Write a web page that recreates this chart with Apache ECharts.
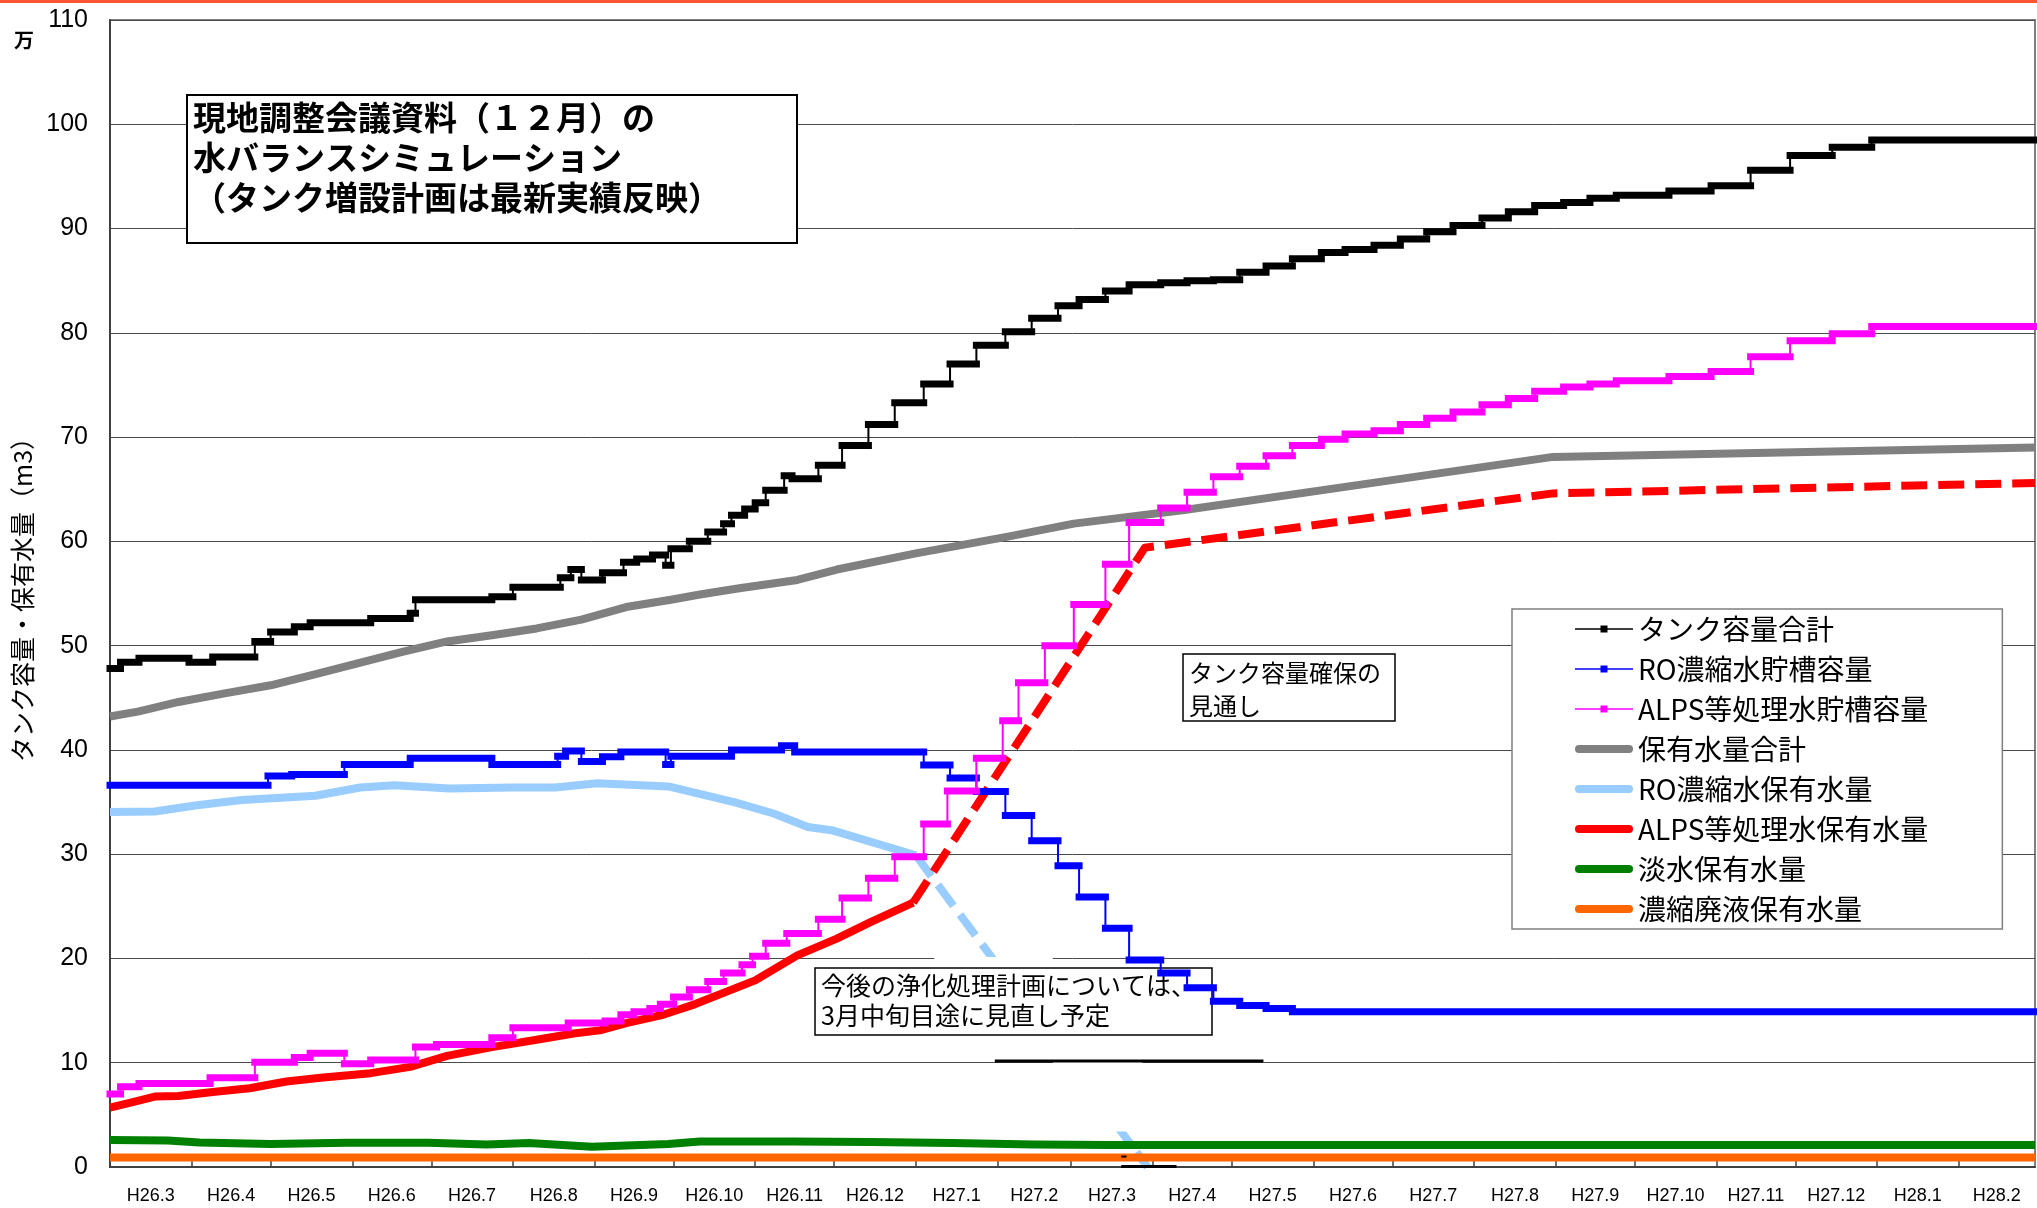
<!DOCTYPE html>
<html>
<head>
<meta charset="utf-8">
<script src="https://cdn.jsdelivr.net/npm/echarts@6/dist/echarts.min.js"></script>
<style>
  html, body { margin: 0; padding: 0; background: #fff; }
  #chart { width: 2037px; height: 1208px; }
</style>
</head>
<body>
<div id="chart"></div>
<script>
// ---- Simulation period -------------------------------------------------
const START = '2014-03-01';
const END = '2016-03-01';

// Month labels along the bottom (Heisei year.month), one per month
const monthLabels = [
  'H26.3', 'H26.4', 'H26.5', 'H26.6', 'H26.7', 'H26.8', 'H26.9', 'H26.10', 'H26.11', 'H26.12',
  'H27.1', 'H27.2', 'H27.3', 'H27.4', 'H27.5', 'H27.6', 'H27.7', 'H27.8', 'H27.9', 'H27.10',
  'H27.11', 'H27.12', 'H28.1', 'H28.2'
];

// ---- タンク容量合計 (万m3): date each capacity level starts, and the level
const tankTotalDates = [
  '2014-03-01', '2014-03-05', '2014-03-12', '2014-03-31', '2014-04-09', '2014-04-25', '2014-05-01',
  '2014-05-10', '2014-05-16', '2014-06-08', '2014-06-23', '2014-06-25', '2014-07-24', '2014-08-01',
  '2014-08-19', '2014-08-23', '2014-08-27', '2014-09-04', '2014-09-12', '2014-09-17', '2014-09-23',
  '2014-09-28', '2014-09-30', '2014-10-07', '2014-10-14', '2014-10-20', '2014-10-23', '2014-10-28',
  '2014-11-01', '2014-11-05', '2014-11-12', '2014-11-15', '2014-11-25', '2014-12-04', '2014-12-14',
  '2014-12-24', '2015-01-04', '2015-01-14', '2015-01-24', '2015-02-04', '2015-02-14', '2015-02-24',
  '2015-03-04', '2015-03-14', '2015-03-23', '2015-04-04', '2015-04-14', '2015-04-24', '2015-05-04',
  '2015-05-14', '2015-05-24', '2015-06-04', '2015-06-13', '2015-06-24', '2015-07-04', '2015-07-14',
  '2015-07-24', '2015-08-04', '2015-08-14', '2015-08-24', '2015-09-04', '2015-09-14', '2015-09-24',
  '2015-10-14', '2015-10-30', '2015-11-14', '2015-11-29', '2015-12-15', '2015-12-30'
];
const tankTotalValues = [
  47.8, 48.4, 48.8, 48.4, 48.9, 50.4, 51.3,
  51.8, 52.2, 52.6, 53.1, 54.4, 54.7, 55.6,
  56.5, 57.3, 56.3, 57.0, 58.0, 58.3, 58.7,
  57.7, 59.3, 60.0, 60.9, 61.7, 62.5, 63.1,
  63.7, 64.9, 66.3, 66.0, 67.3, 69.2, 71.2,
  73.3, 75.1, 77.0, 78.8, 80.1, 81.4, 82.6,
  83.2, 84.0, 84.6, 84.8, 85.0, 85.1, 85.8,
  86.4, 87.1, 87.7, 88.0, 88.4, 89.0, 89.7,
  90.3, 91.0, 91.6, 92.2, 92.5, 92.9, 93.2,
  93.6, 94.1, 95.6, 97.0, 97.8, 98.5
];

// ---- RO濃縮水貯槽容量 (万m3)
const roTankDates = [
  '2014-03-01', '2014-04-30', '2014-05-09', '2014-05-29', '2014-06-23', '2014-07-24', '2014-08-18',
  '2014-08-21', '2014-08-27', '2014-09-04', '2014-09-11', '2014-09-28', '2014-09-30', '2014-10-23',
  '2014-11-11', '2014-11-16', '2015-01-04', '2015-01-14', '2015-01-24', '2015-02-04', '2015-02-14',
  '2015-02-24', '2015-03-04', '2015-03-14', '2015-03-23', '2015-04-04', '2015-04-14', '2015-04-24',
  '2015-05-04', '2015-05-14', '2015-05-24'
];
const roTankValues = [
  36.6, 37.5, 37.65, 38.6, 39.2, 38.6, 39.4,
  39.9, 38.9, 39.35, 39.8, 38.6, 39.4, 40.0,
  40.4, 39.8, 38.55, 37.3, 36.0, 33.7, 31.3,
  28.9, 25.9, 22.9, 19.85, 18.6, 17.2, 15.9,
  15.5, 15.2, 14.9
];

// ---- ALPS等処理水貯槽容量 (万m3)
const alpsTankDates = [
  '2014-03-01', '2014-03-05', '2014-03-12', '2014-04-08', '2014-04-25', '2014-05-10', '2014-05-16',
  '2014-05-29', '2014-06-08', '2014-06-25', '2014-07-03', '2014-07-24', '2014-08-01', '2014-08-22',
  '2014-09-05', '2014-09-11', '2014-09-16', '2014-09-22', '2014-09-26', '2014-10-01', '2014-10-07',
  '2014-10-14', '2014-10-20', '2014-10-27', '2014-10-31', '2014-11-05', '2014-11-13', '2014-11-25',
  '2014-12-04', '2014-12-14', '2014-12-24', '2015-01-04', '2015-01-13', '2015-01-24', '2015-02-03',
  '2015-02-09', '2015-02-19', '2015-03-02', '2015-03-14', '2015-03-23', '2015-04-04', '2015-04-14',
  '2015-04-24', '2015-05-04', '2015-05-14', '2015-05-24', '2015-06-04', '2015-06-13', '2015-06-24',
  '2015-07-04', '2015-07-14', '2015-07-24', '2015-08-04', '2015-08-14', '2015-08-24', '2015-09-04',
  '2015-09-14', '2015-09-24', '2015-10-14', '2015-10-30', '2015-11-14', '2015-11-29', '2015-12-15',
  '2015-12-30'
];
const alpsTankValues = [
  7.0, 7.7, 8.0, 8.55, 10.05, 10.5, 10.9,
  9.9, 10.25, 11.5, 11.75, 12.4, 13.35, 13.8,
  14.0, 14.6, 14.9, 15.2, 15.6, 16.3, 17.0,
  17.8, 18.6, 19.4, 20.2, 21.45, 22.4, 23.75,
  25.8, 27.7, 29.75, 32.9, 36.05, 39.2, 42.8,
  46.45, 50.0, 53.95, 57.8, 61.8, 63.2, 64.7,
  66.2, 67.2, 68.2, 69.2, 69.8, 70.3, 70.6,
  71.2, 71.8, 72.4, 73.1, 73.7, 74.4, 74.8,
  75.1, 75.4, 75.8, 76.3, 77.7, 79.25, 79.9,
  80.6
];

// ---- 保有水量合計 (万m3)
const heldTotalDates = [
  '2014-03-01', '2014-03-12', '2014-03-27', '2014-04-13', '2014-05-01', '2014-05-17', '2014-06-03',
  '2014-06-20', '2014-07-07', '2014-07-24', '2014-08-10', '2014-08-27', '2014-09-13', '2014-09-30',
  '2014-10-11', '2014-10-26', '2014-11-17', '2014-12-02', '2015-01-01', '2015-02-05', '2015-03-02',
  '2015-04-13', '2015-06-15', '2015-08-31', '2016-03-01'
];
const heldTotalValues = [
  43.2, 43.7, 44.6, 45.4, 46.2, 47.2, 48.3,
  49.4, 50.4, 51.0, 51.65, 52.5, 53.7, 54.4,
  54.9, 55.5, 56.3, 57.3, 58.85, 60.45, 61.7,
  63.0, 65.3, 68.1, 69.0
];

// ---- RO濃縮水保有水量 (万m3): record, then the forecast
const roHeldDates = [
  '2014-03-01', '2014-03-18', '2014-04-03', '2014-04-20', '2014-05-18', '2014-06-04', '2014-06-17',
  '2014-07-08', '2014-08-01', '2014-08-17', '2014-09-02', '2014-09-29', '2014-10-24', '2014-11-08',
  '2014-11-21', '2014-11-30', '2015-01-01'
];
const roHeldValues = [
  34.05, 34.1, 34.7, 35.2, 35.6, 36.4, 36.6,
  36.3, 36.4, 36.4, 36.8, 36.5, 35.0, 33.9,
  32.6, 32.3, 29.9
];
const roHeldForecastDates = ['2015-01-01', '2015-03-30'];
const roHeldForecastValues = [29.9, 0];

// ---- ALPS等処理水保有水量 (万m3): record, then the forecast
const alpsHeldDates = [
  '2014-03-01', '2014-03-10', '2014-03-18', '2014-03-27', '2014-04-09', '2014-04-23', '2014-05-07',
  '2014-05-20', '2014-06-08', '2014-06-23', '2014-07-07', '2014-07-24', '2014-08-10', '2014-08-24',
  '2014-09-03', '2014-09-13', '2014-09-27', '2014-10-09', '2014-11-01', '2014-11-17', '2014-12-02',
  '2014-12-15', '2014-12-31'
];
const alpsHeldValues = [
  5.7, 6.25, 6.75, 6.8, 7.2, 7.55, 8.2,
  8.55, 9.0, 9.6, 10.65, 11.5, 12.2, 12.8,
  13.1, 13.8, 14.6, 15.6, 17.9, 20.3, 21.9,
  23.5, 25.35
];
const alpsHeldForecastDates = ['2014-12-31', '2015-03-29', '2015-08-31', '2016-03-01'];
const alpsHeldForecastValues = [25.35, 59.4, 64.6, 65.6];

// ---- 淡水保有水量 (万m3)
const freshHeldDates = [
  '2014-03-01', '2014-03-23', '2014-04-04', '2014-05-01', '2014-05-30', '2014-06-30', '2014-07-22',
  '2014-08-07', '2014-08-31', '2014-09-29', '2014-10-11', '2014-11-15', '2014-12-15', '2015-01-15',
  '2015-02-15', '2015-03-15', '2016-03-01'
];
const freshHeldValues = [
  2.6, 2.55, 2.35, 2.2, 2.33, 2.33, 2.15,
  2.3, 1.95, 2.2, 2.45, 2.45, 2.4, 2.3,
  2.15, 2.1, 2.1
];

// ---- 濃縮廃液保有水量 (万m3)
const wasteHeldDates = ['2014-03-01', '2015-01-01', '2016-03-01'];
const wasteHeldValues = [0.9, 0.9, 0.9];

// ---------------------------------------------------------------------------
const JP = '"Noto Sans CJK JP", "Noto Sans", sans-serif';
const NUM = '"Liberation Sans", Arial, sans-serif';

// dates are placed on a numeric (millisecond) axis
const ts = s => { const p = s.split('-').map(Number); return new Date(p[0], p[1] - 1, p[2]).getTime(); };
const pairs = (dates, values) => dates.map((d, i) => [ts(d), values[i]]);

// month boundaries get a tick, month middles get the label
const monthStarts = [];
const monthMids = [];
monthLabels.forEach((_, i) => {
  const a = new Date(2014, 2 + i, 1).getTime();
  const b = new Date(2014, 3 + i, 1).getTime();
  if (i > 0) monthStarts.push(a);
  monthMids.push(Math.round((a + b) / 2));
});
function monthLabelFor(v) {
  let best = 0;
  monthMids.forEach((m, i) => { if (Math.abs(m - v) < Math.abs(monthMids[best] - v)) best = i; });
  return monthLabels[best];
}

// Layering: held-water lines, then white patches and note boxes, then capacity staircases
const Z_HELD = 2, Z_PATCH = 2.3, Z_BOX = 2.5, Z_CAPACITY = 3;

// A capacity series is a staircase: thick level bars joined by a thin step line.
function capacitySeries(name, color, dates, values) {
  const bars = [];
  dates.forEach((d, i) => {
    const next = i + 1 < dates.length ? dates[i + 1] : END;
    bars.push([ts(d), values[i]], [ts(next), values[i]], [ts(next), '-']);
  });
  const steps = pairs(dates, values);
  steps.push([ts(END), values[values.length - 1]]);
  return [
    {
      name, type: 'line', data: bars, symbol: 'none', connectNulls: false,
      lineStyle: { color, width: 7, cap: 'square' }, itemStyle: { color }, z: Z_CAPACITY
    },
    {
      name, type: 'line', data: steps, step: 'end', symbol: 'none',
      lineStyle: { color, width: 2 }, itemStyle: { color }, z: Z_CAPACITY
    }
  ];
}

function heldSeries(name, color, dates, values, dashed) {
  return {
    name, type: 'line', data: pairs(dates, values), symbol: 'none',
    lineStyle: { color, width: 8, type: dashed ? [26, 11] : 'solid', cap: 'butt', join: 'round' },
    itemStyle: { color }, z: Z_HELD
  };
}

const markerIcon = 'path://M0,3.2H58V4.8H0Z M25.5,0.5H32.5V7.5H25.5Z';
const barIcon = 'path://M4,0H54A4,4 0 0 1 54,8H4A4,4 0 0 1 4,0Z';

const chart = echarts.init(document.getElementById('chart'), null, { renderer: 'canvas' });

chart.setOption({
  animation: false,
  backgroundColor: '#fff',
  grid: {
    left: 110, right: 2, top: 20, bottom: 41,
    show: true, borderColor: '#808080', borderWidth: 2, backgroundColor: 'transparent'
  },
  xAxis: {
    type: 'value', min: ts(START), max: ts(END),
    axisLine: { show: true, lineStyle: { color: '#404040', width: 2 } },
    axisTick: { show: true, inside: true, length: 8, customValues: monthStarts, lineStyle: { color: '#404040', width: 1.5 } },
    axisLabel: {
      customValues: monthMids, formatter: v => monthLabelFor(v),
      fontFamily: NUM, fontSize: 18, color: '#000', margin: 20
    },
    splitLine: { show: false }
  },
  yAxis: {
    type: 'value', min: 0, max: 110, interval: 10,
    name: 'タンク容量・保有水量（m3）', nameLocation: 'middle', nameRotate: 90, nameGap: 74,
    nameTextStyle: { fontFamily: JP, fontSize: 25, color: '#000' },
    axisLine: { show: true, lineStyle: { color: '#404040', width: 2 } },
    axisTick: { show: false },
    axisLabel: { fontFamily: NUM, fontSize: 25, color: '#000', margin: 22 },
    splitLine: { show: true, lineStyle: { color: '#4a4a4a', width: 1 } }
  },
  legend: {
    orient: 'vertical', left: 1512, top: 609,
    padding: [5, 74, 5, 63],
    itemWidth: 58, itemHeight: 8, itemGap: 10,
    borderColor: '#7f7f7f', borderWidth: 1.5, backgroundColor: '#fff',
    itemStyle: { borderWidth: 0 },
    textStyle: { fontFamily: JP, fontSize: 28, color: '#000', lineHeight: 30 },
    data: [
      { name: 'タンク容量合計', icon: markerIcon },
      { name: 'RO濃縮水貯槽容量', icon: markerIcon },
      { name: 'ALPS等処理水貯槽容量', icon: markerIcon },
      { name: '保有水量合計', icon: barIcon },
      { name: 'RO濃縮水保有水量', icon: barIcon },
      { name: 'ALPS等処理水保有水量', icon: barIcon },
      { name: '淡水保有水量', icon: barIcon },
      { name: '濃縮廃液保有水量', icon: barIcon }
    ]
  },
  series: [
    heldSeries('保有水量合計', '#808080', heldTotalDates, heldTotalValues, false),
    heldSeries('RO濃縮水保有水量', '#99ccff', roHeldDates, roHeldValues, false),
    heldSeries('RO濃縮水保有水量', '#99ccff', roHeldForecastDates, roHeldForecastValues, true),
    heldSeries('ALPS等処理水保有水量', '#ff0000', alpsHeldDates, alpsHeldValues, false),
    heldSeries('ALPS等処理水保有水量', '#ff0000', alpsHeldForecastDates, alpsHeldForecastValues, true),
    heldSeries('淡水保有水量', '#008000', freshHeldDates, freshHeldValues, false),
    heldSeries('濃縮廃液保有水量', '#ff6600', wasteHeldDates, wasteHeldValues, false),
    ...capacitySeries('タンク容量合計', '#000000', tankTotalDates, tankTotalValues),
    ...capacitySeries('RO濃縮水貯槽容量', '#0000ff', roTankDates, roTankValues),
    ...capacitySeries('ALPS等処理水貯槽容量', '#ff00ff', alpsTankDates, alpsTankValues)
  ]
});

// ---- Annotations: text boxes, white patches and rules placed in data space
const px = (d, v) => chart.convertToPixel({ gridIndex: 0 }, [ts(d), v]);
function patch(fromDate, toDate, top, bottom) {
  const a = px(fromDate, top), b = px(toDate, bottom);
  return { type: 'rect', z: Z_PATCH, silent: true, shape: { x: a[0], y: a[1], width: b[0] - a[0], height: b[1] - a[1] }, style: { fill: '#fff' } };
}
function rule(fromDate, toDate, value, width) {
  const a = px(fromDate, value), b = px(toDate, value);
  return { type: 'line', z: 6, silent: true, shape: { x1: a[0], y1: a[1], x2: b[0], y2: b[1] }, style: { stroke: '#000', lineWidth: width } };
}
function textBox(x, y, w, h, lines, font, lineHeight, border, bold) {
  return [
    { type: 'rect', z: Z_BOX, silent: true, shape: { x, y, width: w, height: h }, style: { fill: '#fff', stroke: '#000', lineWidth: border } },
    {
      type: 'text', z: Z_BOX + 0.1, silent: true, x: x + 6, y: y + 2,
      style: {
        text: lines.join('\n'), fontFamily: JP, fontSize: font, fontWeight: bold ? 'bold' : 'normal',
        lineHeight, fill: '#000', verticalAlign: 'top', align: 'left'
      }
    }
  ];
}

chart.setOption({
  graphic: {
    elements: [
      { type: 'rect', z: 9, silent: true, shape: { x: 0, y: 0, width: 2037, height: 3 }, style: { fill: '#ff5533' } },
      {
        type: 'text', z: 9, silent: true, x: 24, y: 40,
        style: { text: '万', fontFamily: JP, fontSize: 20, fontWeight: 'bold', fill: '#000', align: 'center', verticalAlign: 'middle' }
      },
      patch('2015-01-08', '2015-02-22', 20.15, 19.85),
      patch('2015-01-26', '2015-02-28', 19.85, 10.4),
      patch('2015-02-22', '2015-03-28', 10.4, 3.4),
      rule('2015-01-31', '2015-05-13', 10.17, 3),
      rule('2015-03-20', '2015-04-10', 0.05, 3),
      rule('2015-03-20', '2015-03-22', 1.0, 2),
      ...textBox(187, 95, 610, 148,
        ['現地調整会議資料（１２月）の', '水バランスシミュレーション', '（タンク増設計画は最新実績反映）'],
        33, 40, 2, true),
      ...textBox(1183, 654, 212, 67, ['タンク容量確保の', '見通し'], 24, 33, 1.5, false),
      ...textBox(815, 968, 397, 67, ['今後の浄化処理計画については、', '3月中旬目途に見直し予定'], 25, 30, 1.5, false)
    ]
  }
});
</script>
</body>
</html>
